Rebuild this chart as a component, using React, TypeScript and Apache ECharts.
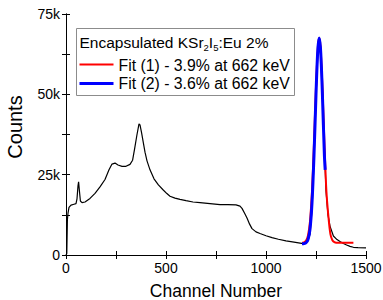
import React, { useEffect, useRef } from "react";
import * as echarts from "echarts";

const spectrumChannels = [0, 4, 7, 10, 15, 25, 40, 50, 55, 60, 63, 67, 72, 80, 95, 120, 145, 170, 195, 215, 230, 245, 260, 280, 300, 320, 333, 343, 355, 365, 370, 378, 387, 395, 405, 420, 440, 462, 485, 503, 520, 545, 570, 600, 635, 670, 720, 770, 810, 850, 870, 880, 893, 905, 918, 930, 950, 970, 1000, 1030, 1062, 1100, 1140, 1178, 1200, 1210, 1220, 1230, 1240, 1250, 1258, 1266, 1272, 1280, 1290, 1300, 1310, 1320, 1337, 1355, 1370, 1387, 1403, 1420, 1437, 1460, 1500];
const spectrumCounts = [0, 500, 11000, 13000, 14800, 15500, 15800, 16000, 17500, 21500, 22800, 20000, 16800, 16300, 16500, 17600, 19200, 21200, 23500, 26500, 28300, 28600, 28000, 27600, 27600, 28200, 29500, 33000, 37500, 40800, 40500, 38000, 34800, 32000, 29300, 26500, 23700, 21800, 20300, 19200, 18300, 17700, 17300, 16900, 16500, 16300, 16000, 15700, 15700, 15600, 15200, 14500, 13000, 11500, 9600, 8200, 7200, 6700, 6000, 5400, 4900, 4400, 4000, 3600, 3800, 4500, 6500, 14000, 29000, 48500, 62000, 67500, 65500, 56000, 37000, 20000, 12500, 9000, 5900, 4800, 4200, 3600, 3100, 2700, 2400, 2300, 2200];

const fit1Channels = [1180, 1190, 1200, 1210, 1220, 1230, 1240, 1250, 1260, 1266, 1272, 1282, 1292, 1302, 1312, 1322, 1332, 1342, 1352, 1437];
const fit1Counts = [3800, 3900, 4400, 6100, 10500, 19800, 34800, 52300, 65100, 67500, 65100, 52300, 34800, 19800, 12000, 6500, 4600, 4000, 3850, 3800];

const fit2Channels = [1180, 1190, 1200, 1210, 1220, 1230, 1240, 1250, 1255, 1260, 1266, 1272, 1277, 1282, 1292, 1296];
const fit2Counts = [3500, 3550, 3800, 4800, 8000, 16200, 31000, 50000, 58500, 64700, 67500, 64700, 58500, 50000, 31000, 26500];

const xTicks = [0, 500, 1000, 1500];
const yTickLabels: Record<number, string> = { 0: "0", 25000: "25k", 50000: "50k", 75000: "75k" };

const xAxisTitle = "Channel Number";
const yAxisTitle = "Counts";
// legend title pieces: [text, isSubscript]
const legendTitleParts: [string, boolean][] = [
  ["Encapsulated KSr", false],
  ["2", true],
  ["I", false],
  ["5", true],
  [":Eu 2%", false],
];
const legendItems = ["Fit (1) - 3.9% at 662 keV", "Fit (2) - 3.6% at 662 keV"];
const seriesColors = ["#000000", "#ff0000", "#0000ff"];

const FONT = "'Liberation Sans', Arial, sans-serif";
const TITLE_SIZE = 15.5;
const SUB_SIZE = 9.5;

function zip(xs: number[], ys: number[]) {
  return xs.map((x, i) => [x, ys[i]]);
}

function measure(text: string, size: number) {
  const ctx = document.createElement("canvas").getContext("2d");
  if (!ctx) return text.length * size * 0.55;
  ctx.font = `${size}px ${FONT}`;
  return ctx.measureText(text).width;
}

export default function App() {
  const ref = useRef<HTMLDivElement>(null);
  useEffect(() => {
    if (!ref.current) return;
    const chart = echarts.init(ref.current, undefined, { renderer: "svg" });
    const axisLine = { show: true, lineStyle: { color: "#000", width: 1 } };
    const tick = { show: true, inside: true, length: 4, lineStyle: { color: "#000", width: 1 } };
    const baseX = {
      type: "value" as const,
      min: 0,
      max: 1500,
      interval: 250,
      axisLine,
      axisTick: tick,
      splitLine: { show: false },
    };
    const baseY = {
      type: "value" as const,
      min: 0,
      max: 75000,
      interval: 12500,
      axisLine,
      axisTick: tick,
      splitLine: { show: false },
    };

    // Build legend title pieces
    let cx = 3;
    const titleEls: any[] = legendTitleParts.map(([t, sub]) => {
      const size = sub ? SUB_SIZE : TITLE_SIZE;
      const el = {
        type: "text",
        x: cx,
        y: sub ? 19 : 14,
        style: { text: t, fontFamily: FONT, fontSize: size, fill: "#000", verticalAlign: "middle" },
      };
      cx += measure(t, size);
      return el;
    });

    chart.setOption({
      animation: false,
      backgroundColor: "#fff",
      grid: { left: 66, right: 17, top: 14, bottom: 45, containLabel: false, outerBoundsMode: "none" },
      xAxis: [
        {
          ...baseX,
          position: "bottom",
          name: xAxisTitle,
          nameLocation: "middle",
          nameGap: 26.5,
          nameTextStyle: { fontFamily: FONT, fontSize: 17.5, color: "#000" },
          axisLabel: {
            fontFamily: FONT,
            fontSize: 14,
            color: "#000",
            margin: 6,
            formatter: (v: number) => (xTicks.includes(v) ? String(v) : ""),
          },
        },
        { ...baseX, position: "top", axisLabel: { show: false } },
      ],
      yAxis: [
        {
          ...baseY,
          position: "left",
          axisLabel: {
            fontFamily: FONT,
            fontSize: 14,
            color: "#000",
            margin: 6,
            formatter: (v: number) => yTickLabels[v] ?? "",
          },
        },
        { ...baseY, position: "right", axisLabel: { show: false } },
      ],
      series: [
        {
          type: "line",
          data: zip(spectrumChannels, spectrumCounts),
          showSymbol: false,
          lineStyle: { color: seriesColors[0], width: 1.2 },
          z: 2,
        },
        {
          type: "line",
          name: legendItems[0],
          data: zip(fit1Channels, fit1Counts),
          showSymbol: false,
          smooth: 0.3,
          lineStyle: { color: seriesColors[1], width: 2 },
          z: 3,
        },
        {
          type: "line",
          name: legendItems[1],
          data: zip(fit2Channels, fit2Counts),
          showSymbol: false,
          smooth: 0.3,
          lineStyle: { color: seriesColors[2], width: 3 },
          z: 4,
        },
      ],
      graphic: [
        {
          type: "text",
          x: 15,
          y: 127,
          rotation: Math.PI / 2,
          style: {
            text: yAxisTitle,
            fontFamily: FONT,
            fontSize: 20,
            fill: "#000",
            align: "center",
            verticalAlign: "middle",
          },
        },
        {
          type: "group",
          left: 76,
          top: 28,
          children: [
            {
              type: "rect",
              shape: { x: 0, y: 0, width: 218, height: 67 },
              style: { fill: "#fff", stroke: "#8c8c8c", lineWidth: 1 },
            },
            ...titleEls,
            {
              type: "line",
              shape: { x1: 3, y1: 36, x2: 37, y2: 36 },
              style: { stroke: seriesColors[1], lineWidth: 2 },
            },
            {
              type: "text",
              x: 42,
              y: 37,
              style: { text: legendItems[0], fontFamily: FONT, fontSize: 15.8, fill: "#000", verticalAlign: "middle" },
            },
            {
              type: "line",
              shape: { x1: 3, y1: 55, x2: 37, y2: 55 },
              style: { stroke: seriesColors[2], lineWidth: 3 },
            },
            {
              type: "text",
              x: 42,
              y: 54.5,
              style: { text: legendItems[1], fontFamily: FONT, fontSize: 15.8, fill: "#000", verticalAlign: "middle" },
            },
          ],
        },
      ],
    });
    return () => chart.dispose();
  }, []);
  return (
    <div
      ref={ref}
      style={{ position: "fixed", left: 0, top: 0, width: 383, height: 300, background: "#fff" }}
    />
  );
}
